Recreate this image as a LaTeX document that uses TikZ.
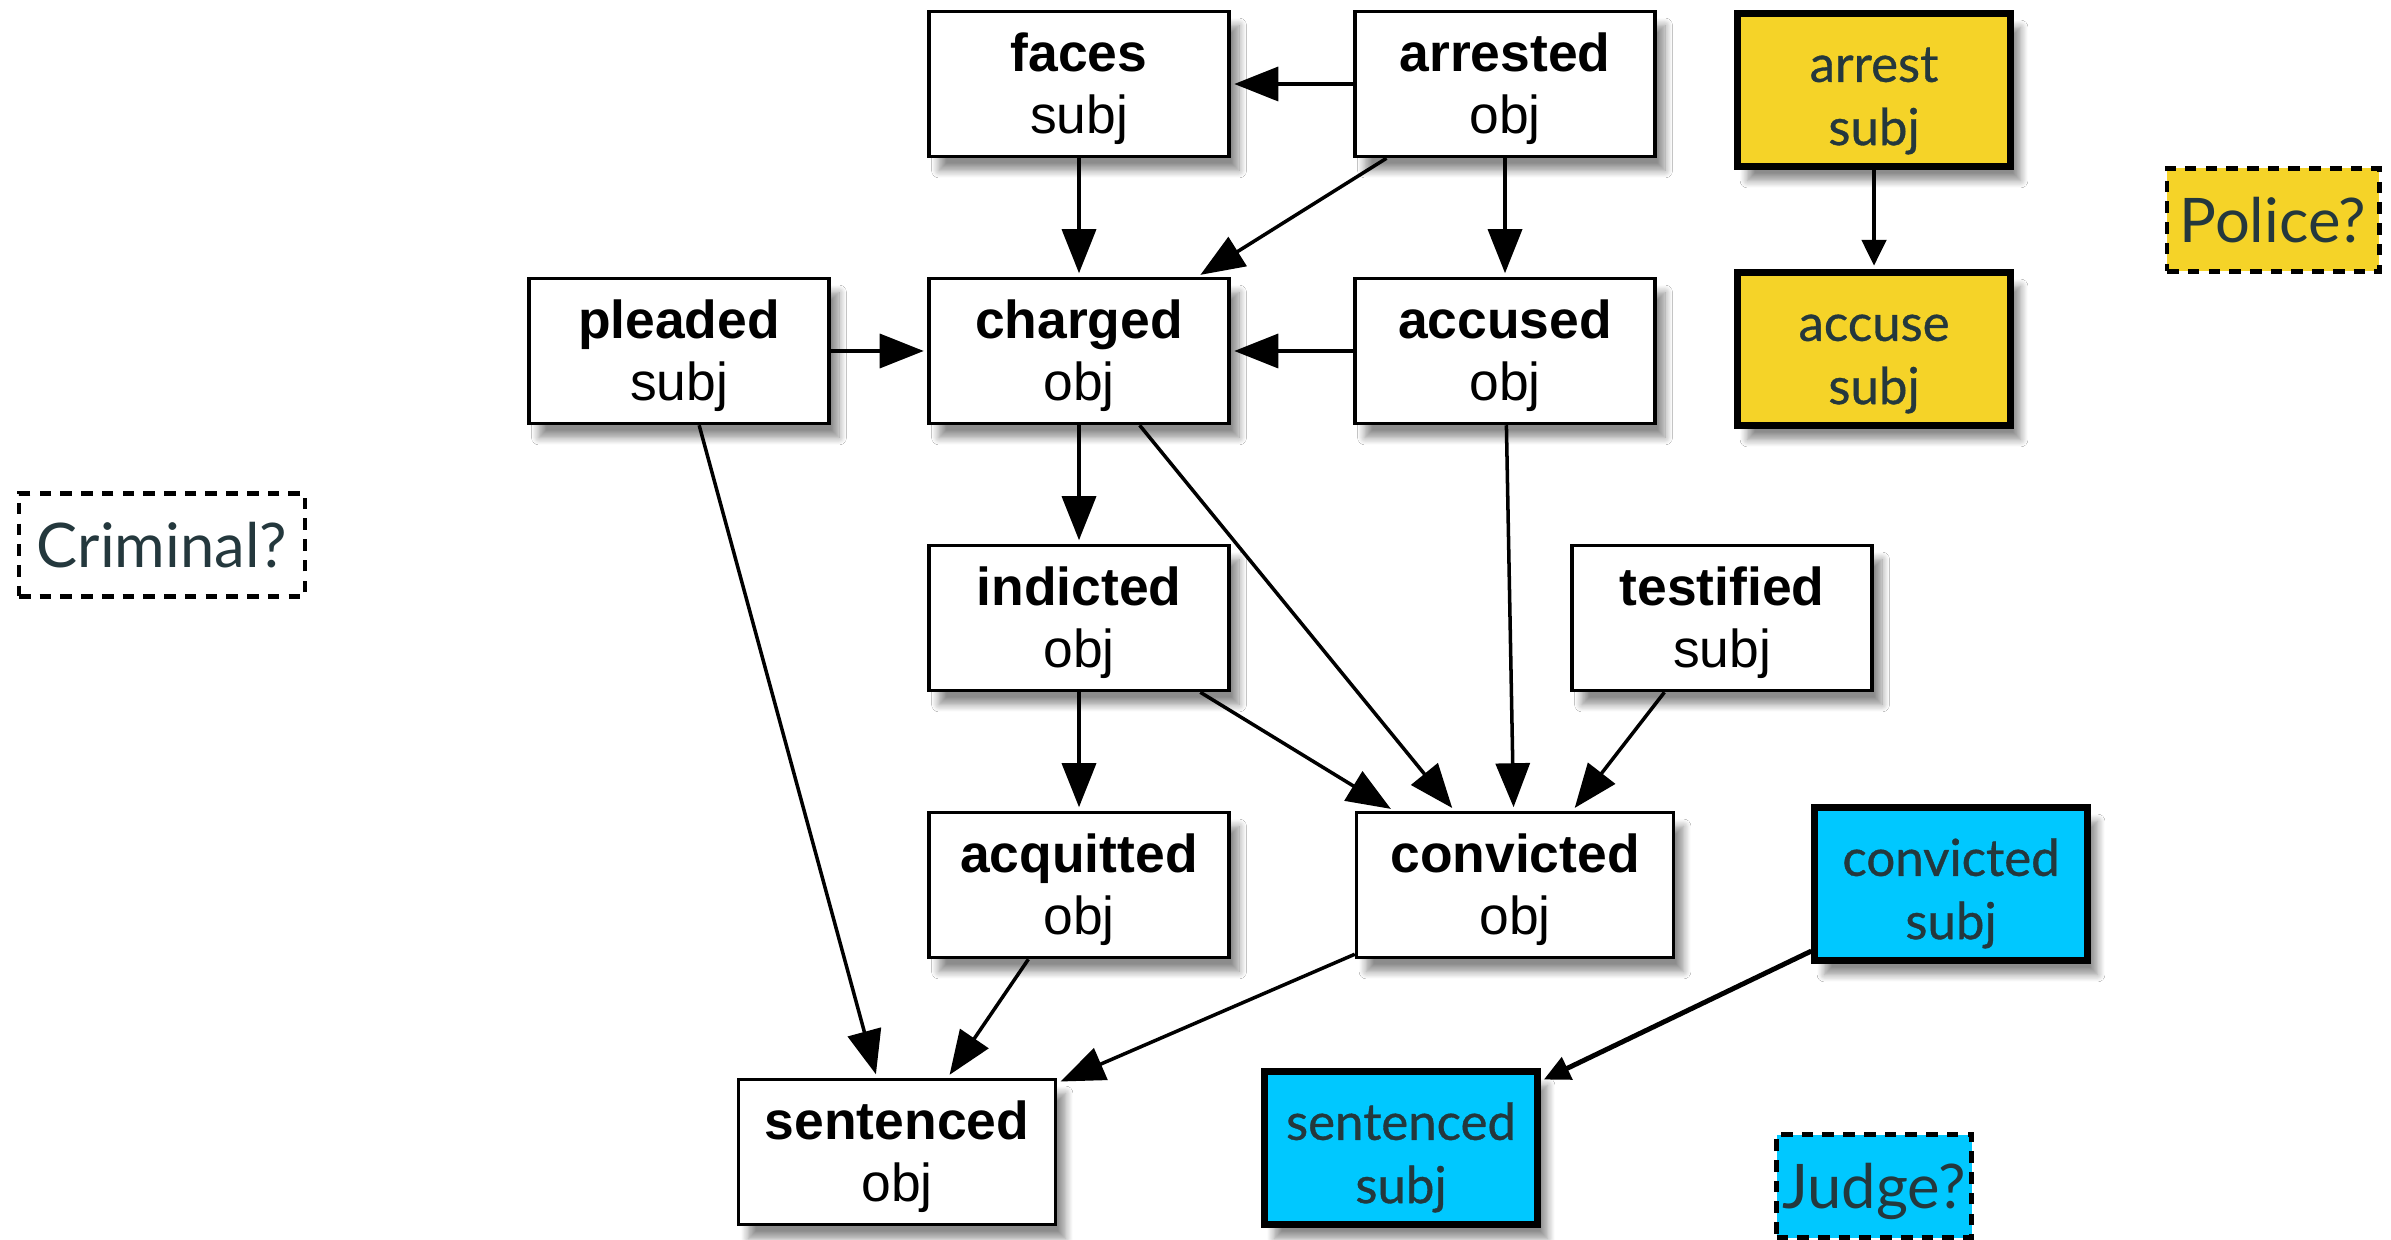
\documentclass[tikz,border=0pt]{standalone}
\usepackage{fontspec}
\setmainfont{Liberation Sans}
\newfontfamily\gill{Lato}
\newfontfamily\gillm[FakeBold=0.7]{Lato}
\usepackage{tikz}
\usetikzlibrary{arrows.meta,shadows,shadows.blur}
\definecolor{ink}{RGB}{36,56,61}
\definecolor{police}{RGB}{245,211,40}
\definecolor{judge}{RGB}{0,200,255}
\newcommand{\vb}[2]{\rule{0pt}{13.6pt}\textbf{#1}\\#2}
\newcommand{\rl}[2]{\rule{0pt}{16pt}#1\\#2}
\tikzstyle{vb}=[shape=rectangle,draw,fill=white,line width=1pt,minimum width=3cm,minimum height=1.45cm,inner sep=0pt,align=center,font=\fontsize{15.2}{17.5}\selectfont,blur shadow={shadow xshift=1mm,shadow yshift=-1.4mm,shadow blur steps=10,shadow opacity=45}]
\tikzstyle{wide}=[minimum width=3.17cm]
\tikzstyle{role}=[shape=rectangle,draw,line width=1.8pt,minimum width=2.73cm,minimum height=1.53cm,inner sep=0pt,align=center,text=ink,font=\gillm\fontsize{14.5}{18}\selectfont,blur shadow={shadow xshift=1mm,shadow yshift=-1.4mm,shadow blur steps=10,shadow opacity=45}]
\tikzstyle{guess}=[shape=rectangle,draw,line width=1.4pt,dash pattern=on 3.3pt off 2.6pt,minimum height=1.03cm,inner sep=0pt,text=ink,font=\gill\fontsize{17.5}{20}\selectfont]
\tikzstyle{to}=[->,shorten >=1pt,>={Triangle[length=4.4mm,width=3.4mm]},line width=1pt]
\tikzstyle{small}=[->,shorten >=1pt,>={Triangle[length=2.6mm,width=2.4mm]},line width=1.4pt]

\begin{document}
\begin{tikzpicture}
    \fill[white] (0,0) rectangle (23.91,-12.39);
    % graph of verbs
    \node[vb, wide] (sentencedObj) at (8.97, -11.52) {\vb{sentenced}{obj}}
    ;
    \node[vb] (acquitted) at (10.79, -8.85) {\vb{acquitted}{obj}}
        edge[to] (sentencedObj)
    ;
    \node[vb, wide] (convictedObj) at (15.15, -8.85) {\vb{convicted}{obj}}
        edge[to] (sentencedObj)
    ;
    \node[vb] (indicted) at (10.79, -6.18) {\vb{indicted}{obj}}
        edge[to] (acquitted)
        edge[to] (convictedObj)
    ;
    \node[vb] (testified) at (17.22, -6.18) {\vb{testified}{subj}}
        edge[to] (convictedObj)
    ;
    \node[vb] (charged) at (10.79, -3.51) {\vb{charged}{obj}}
        edge[to] (indicted)
        edge[to] (convictedObj)
    ;
    \node[vb] (accused) at (15.05, -3.51) {\vb{accused}{obj}}
        edge[to] (charged)
        edge[to] (convictedObj)
    ;
    \node[vb] (pleaded) at (6.79, -3.51) {\vb{pleaded}{subj}}
        edge[to] (charged)
        edge[to] (sentencedObj)
    ;
    \node[vb] (faces) at (10.79, -0.84) {\vb{faces}{subj}}
        edge[to] (charged)
    ;
    \node[vb] (arrested) at (15.05, -0.84) {\vb{arrested}{obj}}
        edge[to] (faces)
        edge[to] (charged)
        edge[to] (accused)
    ;
    % roles
    \node[role, fill=police] (accuse) at (18.74, -3.49) {\rl{accuse}{subj}}
    ;
    \node[role, fill=police] (arrest) at (18.74, -0.90) {\rl{arrest}{subj}}
        edge[small] (accuse)
    ;
    \node[role, fill=judge] (sentencedSubj) at (14.01, -11.48) {\rl{sentenced}{subj}}
    ;
    \node[role, fill=judge] (convictedSubj) at (19.51, -8.84) {\rl{convicted}{subj}}
        edge[small] (sentencedSubj)
    ;
    \node[guess, minimum width=2.86cm] (criminal) at (1.62, -5.45) {Criminal?};
    \node[guess, fill=police, minimum width=2.12cm] (police) at (22.73, -2.20) {Police?};
    \node[guess, fill=judge, minimum width=1.95cm, text depth=0pt] (judge) at (18.74, -11.86) {Judge?};
\end{tikzpicture}
\end{document}
